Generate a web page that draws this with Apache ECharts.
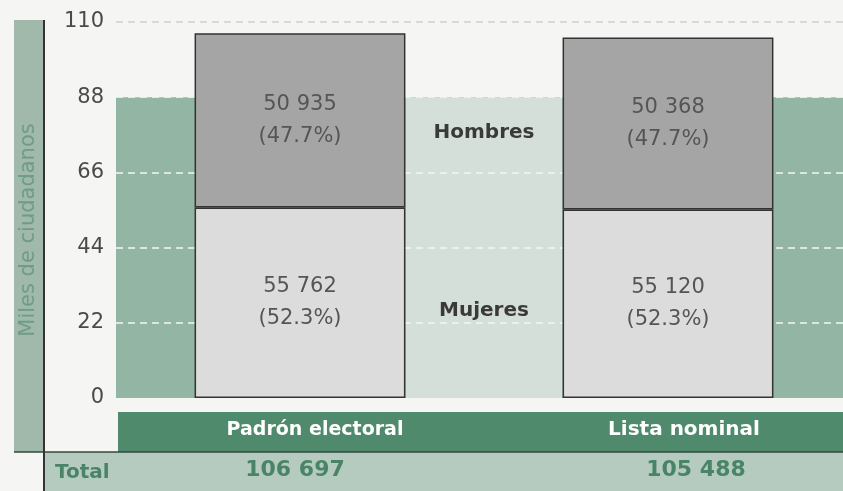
<!DOCTYPE html>
<html><head><meta charset="utf-8">
<script src="https://cdn.jsdelivr.net/npm/echarts@6/dist/echarts.min.js"></script>
<style>html,body{margin:0;padding:0;background:#f5f5f3}#c{width:843px;height:491px}</style>
</head><body><div id="c"></div>
<script>
// ---- data ----
const categories = ['Padrón electoral', 'Lista nominal'];
const mujeres = [55.762, 55.120];      // miles de ciudadanos
const hombres = [50.935, 50.368];
const mujeresPct = [52.3, 52.3];
const hombresPct = [47.7, 47.7];
const seriesNames = ['Mujeres', 'Hombres'];
const totalLabel = 'Total';
const axisTitle = 'Miles de ciudadanos';
const yTicks = [0, 22, 44, 66, 88, 110];
const bandTop = 88;

// ---- helpers ----
const FONT = '"DejaVu Sans", sans-serif';
function fmt(v) {
  return Math.round(v * 1000).toString().replace(/\B(?=(\d{3})+(?!\d))/g, ' ');
}
const totals = categories.map((c, i) => fmt(mujeres[i] + hombres[i]));

const chart = echarts.init(document.getElementById('c'), null, {renderer: 'canvas'});
const BAR_RATIO = 0.573;

function barLabel(pcts) {
  return {
    show: true, position: 'inside', color: '#555', fontFamily: FONT, fontSize: 21,
    lineHeight: 32,
    formatter: p => fmt(p.value) + '\n(' + pcts[p.dataIndex].toFixed(1) + '%)'
  };
}

const option = {
  backgroundColor: '#f5f5f3',
  animation: false,
  grid: {left: 116, right: -9, top: 22, bottom: 93, outerBoundsMode: 'none', containLabel: false},
  xAxis: {
    type: 'category', data: categories, z: 2,
    axisLine: {show: false}, axisTick: {show: false},
    axisLabel: {
      margin: 14, interval: 0,
      formatter: (v, i) => '{c' + i + '|' + v + '}\n{t' + i + '|' + totals[i] + '}',
      rich: {
        c0: {color: '#fff', fontFamily: FONT, fontSize: 19, fontWeight: 'bold', lineHeight: 36, padding: [0, 0, 0, 30]},
        c1: {color: '#fff', fontFamily: FONT, fontSize: 20, fontWeight: 'bold', lineHeight: 36, padding: [0, 0, 0, 32]},
        t0: {color: '#4a8466', fontFamily: FONT, fontSize: 22, fontWeight: 'bold', lineHeight: 44, padding: [0, 10, 0, 0]},
        t1: {color: '#4a8466', fontFamily: FONT, fontSize: 22, fontWeight: 'bold', lineHeight: 44, padding: [0, 0, 0, 56]}
      }
    }
  },
  yAxis: {
    type: 'value', min: yTicks[0], max: yTicks[yTicks.length - 1], interval: yTicks[1] - yTicks[0], z: 2,
    axisLine: {show: false}, axisTick: {show: false},
    axisLabel: {color: '#4a4a4a', fontFamily: FONT, fontSize: 21, margin: 12},
    splitLine: {
      show: true,
      lineStyle: {
        color: ['rgba(0,0,0,0)', '#f4f6f4', '#f4f6f4', '#f4f6f4', '#f4f6f4', '#cfcfcf'],
        type: [7, 5], width: 1.5
      }
    }
  },
  series: [
    {
      name: seriesNames[0], type: 'bar', stack: 'total', barWidth: (BAR_RATIO * 100) + '%', z: 3,
      data: mujeres,
      itemStyle: {color: '#dcdcdc', borderColor: '#333', borderWidth: 1.5},
      label: barLabel(mujeresPct),
      markArea: {
        silent: true,
        itemStyle: {color: '#93b5a3', opacity: 1},
        data: [[{yAxis: 0}, {yAxis: bandTop}]]
      }
    },
    {
      name: seriesNames[1], type: 'bar', stack: 'total', barWidth: (BAR_RATIO * 100) + '%', z: 3,
      data: hombres,
      itemStyle: {color: '#a5a5a5', borderColor: '#333', borderWidth: 1.5},
      label: barLabel(hombresPct)
    }
  ]
};
chart.setOption(option);

// ---- decorations positioned from the library's scales ----
const c0 = chart.convertToPixel({xAxisIndex: 0}, 0);
const c1 = chart.convertToPixel({xAxisIndex: 0}, 1);
const bw = (c1 - c0) * BAR_RATIO;
const y0 = chart.convertToPixel({yAxisIndex: 0}, 0);
const yBand = chart.convertToPixel({yAxisIndex: 0}, bandTop);
const yTop = chart.convertToPixel({yAxisIndex: 0}, yTicks[yTicks.length - 1]);
const gridLeft = c0 - (c1 - c0) / 2;
const W = 843, H = 491;
const midX = (c0 + c1) / 2;
const yHom = chart.convertToPixel({yAxisIndex: 0}, mujeres[0] + hombres[0] / 2) + 12;
const yMuj = chart.convertToPixel({yAxisIndex: 0}, mujeres[0] / 2) + 8;
const catTop = y0 + 14, catBottom = y0 + 54;

chart.setOption({
  graphic: [
    // pale centre column between the bars
    {type: 'rect', z: 1.5, silent: true,
      shape: {x: c0 + bw / 2, y: yBand, width: (c1 - c0) - bw, height: y0 - yBand},
      style: {fill: '#d3dfd8'}},
    // left title strip
    {type: 'rect', z: 0, silent: true, shape: {x: 14, y: yTop - 2, width: 30, height: catBottom - yTop + 2},
      style: {fill: '#a0b9ab'}},
    {type: 'text', z: 1, silent: true, x: 29, y: 230, rotation: Math.PI / 2,
      style: {text: axisTitle, fill: '#6e9c84', font: '21px ' + FONT, align: 'center', verticalAlign: 'middle'}},
    // category band
    {type: 'rect', z: 0, silent: true, shape: {x: gridLeft + 2, y: catTop, width: W - gridLeft, height: catBottom - catTop},
      style: {fill: '#4f8a6c'}},
    // total row
    {type: 'rect', z: 0, silent: true, shape: {x: 44, y: catBottom, width: W - 44, height: H - catBottom},
      style: {fill: '#b6cbbf'}},
    {type: 'text', z: 1, silent: true, x: 55, y: (catBottom + H) / 2 + 1,
      style: {text: totalLabel, fill: '#4a8466', font: 'bold 20px ' + FONT, align: 'left', verticalAlign: 'middle'}},
    // frame lines
    {type: 'line', z: 1, silent: true, shape: {x1: 14, y1: catBottom, x2: W, y2: catBottom},
      style: {stroke: '#34473c', lineWidth: 1.5}},
    {type: 'line', z: 1, silent: true, shape: {x1: 44, y1: yTop - 2, x2: 44, y2: H},
      style: {stroke: '#333', lineWidth: 2}},
    // series names between the bars
    {type: 'text', z: 4, silent: true, x: midX, y: yHom,
      style: {text: seriesNames[1], fill: '#3a3a3a', font: 'bold 20px ' + FONT, align: 'center', verticalAlign: 'middle'}},
    {type: 'text', z: 4, silent: true, x: midX, y: yMuj,
      style: {text: seriesNames[0], fill: '#3a3a3a', font: 'bold 20px ' + FONT, align: 'center', verticalAlign: 'middle'}}
  ]
});
</script>
</body></html>
